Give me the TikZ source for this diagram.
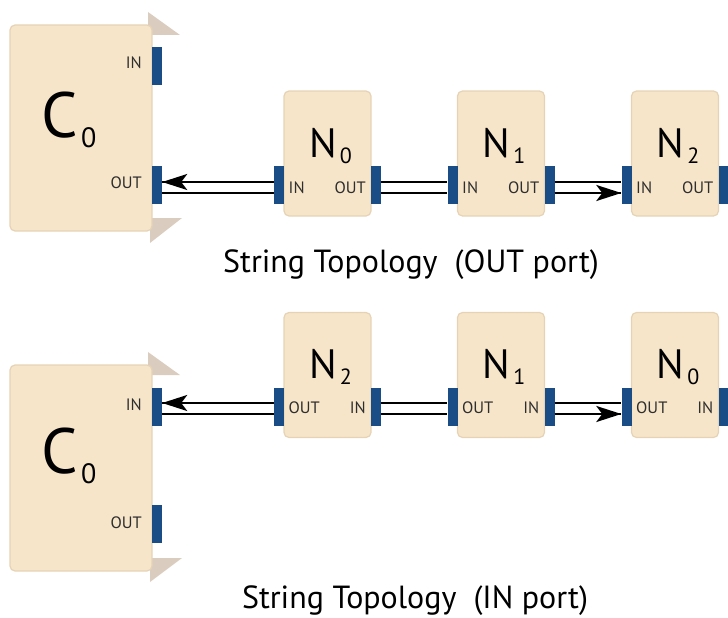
\documentclass[tikz,border=0pt]{standalone}
\usepackage{fontspec}
\setmainfont{PT Sans}
\usetikzlibrary{arrows.meta}

\definecolor{boxfill}{HTML}{F6E5C9}
\definecolor{boxedge}{HTML}{E6D3B6}
\definecolor{portblue}{HTML}{1A4C86}
\definecolor{fintan}{HTML}{DACDBF}
\definecolor{plabgray}{HTML}{2E2E2E}

\newcommand{\nname}[2]{{\fontsize{41}{41}\selectfont #1}\kern3pt\raisebox{-6pt}{\fontsize{22}{22}\selectfont #2}}
\newcommand{\cname}[2]{{\fontsize{64}{64}\selectfont #1}\kern3pt\raisebox{-10pt}{\fontsize{28}{28}\selectfont #2}}

\begin{document}
\begin{tikzpicture}
  [x=1pt,y=-1pt,every node/.style={inner sep=0pt},
   box/.style={draw=boxedge,fill=boxfill,line width=1.2pt,rounded corners=5pt,
     minimum width=87pt,minimum height=125pt},
   cbox/.style={box,minimum width=142pt,minimum height=206pt},
   port/.style={fill=portblue,minimum width=10pt,minimum height=38pt},
   plab/.style={text=plabgray,font=\fontsize{16.5}{16.5}\selectfont},
   caption/.style={font=\fontsize{32}{32}\selectfont},
   link/.style={line width=2.5pt},
   tip/.style={-{Stealth[length=25pt,width=16pt,inset=6pt]}}]
  \useasboundingbox (0,0) rectangle (728,618);

  % top: string topology on the OUT port
  \fill[fintan] (148,12) -- (180,35) -- (148,35) -- cycle;
  \fill[fintan] (150,218) -- (182,218) -- (150,243) -- cycle;
  \node[cbox] (tc0) at (81,128) {};
  \node[port] (tc0in) at (157,66) {};
  \node[port] (tc0out) at (157,184.5) {};
  \node[plab,anchor=base east] (tc0inlab) at (142,68) {IN};
  \node[plab,anchor=base east] (tc0outlab) at (142,188) {OUT};
  \node[anchor=base] (tc0name) at (69,137) {\cname{C}{0}};

  \foreach \i/\x in {0/327.5,1/501,2/675}{
    \node[box] (tn\i) at (\x,153.5) {};
    \node[port] (tn\i in) at (\x-48.5,184.5) {};
    \node[port] (tn\i out) at (\x+48.5,184.5) {};
    \node[plab,anchor=base west] (tn\i inlab) at (\x-39,193) {IN};
    \node[plab,anchor=base east] (tn\i outlab) at (\x+38.5,193) {OUT};
    \node[anchor=base] (tn\i name) at (\x+3,157) {\nname{N}{\i}};
  }

  \foreach \from/\to in {tc0out/tn0in,tn0out/tn1in,tn1out/tn2in}
    \draw[link] ([yshift=2.5pt]\from.east) -- ([yshift=2.5pt]\to.west)
                ([yshift=-8.5pt]\from.east) -- ([yshift=-8.5pt]\to.west);
  \draw[link,tip] ([yshift=2.5pt]tn0in.west) -- ([yshift=2.5pt]tc0out.east);
  \draw[link,tip] ([yshift=-8.5pt]tn1out.east) -- ([yshift=-8.5pt]tn2in.west);

  \node[caption,anchor=base] (tcap) at (411,272) {String Topology\ \ (OUT port)};

  % bottom: string topology on the IN port
  \fill[fintan] (148,352) -- (180,375) -- (148,375) -- cycle;
  \fill[fintan] (150,558) -- (182,558) -- (150,582) -- cycle;
  \node[cbox,minimum height=206pt] (bc0) at (81,468) {};
  \node[port] (bc0in) at (157,406.5) {};
  \node[port] (bc0out) at (157,524) {};
  \node[plab,anchor=base east] (bc0inlab) at (142,410) {IN};
  \node[plab,anchor=base east] (bc0outlab) at (142,528) {OUT};
  \node[anchor=base] (bc0name) at (69,473) {\cname{C}{0}};

  \foreach \i/\x in {2/327.5,1/501,0/675}{
    \node[box] (bn\i) at (\x,375) {};
    \node[port] (bn\i out) at (\x-48.5,406.5) {};
    \node[port] (bn\i in) at (\x+48.5,406.5) {};
    \node[plab,anchor=base west] (bn\i outlab) at (\x-39,413) {OUT};
    \node[plab,anchor=base east] (bn\i inlab) at (\x+38.5,413) {IN};
    \node[anchor=base] (bn\i name) at (\x+3,378) {\nname{N}{\i}};
  }

  \foreach \from/\to in {bc0in/bn2out,bn2in/bn1out,bn1in/bn0out}
    \draw[link] ([yshift=3.5pt]\from.east) -- ([yshift=3.5pt]\to.west)
                ([yshift=-7.5pt]\from.east) -- ([yshift=-7.5pt]\to.west);
  \draw[link,tip] ([yshift=3.5pt]bn2out.west) -- ([yshift=3.5pt]bc0in.east);
  \draw[link,tip] ([yshift=-7.5pt]bn1in.east) -- ([yshift=-7.5pt]bn0out.west);

  \node[caption,anchor=base] (bcap) at (415,608) {String Topology\ \ (IN port)};
\end{tikzpicture}
\end{document}
